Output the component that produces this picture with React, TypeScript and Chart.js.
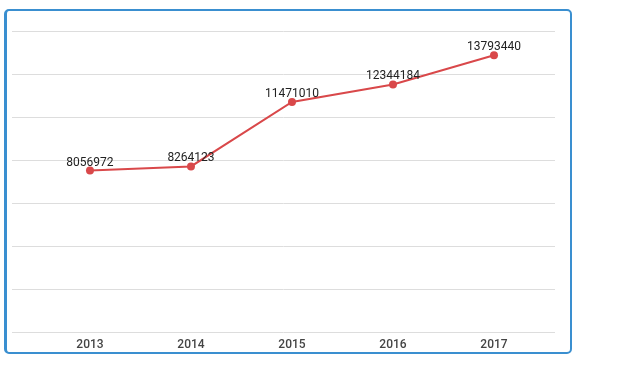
import React, { useEffect, useRef } from "react";
import { Chart, registerables } from "chart.js";

Chart.register(...registerables);

const years = ["2013", "2014", "2015", "2016", "2017"];
const values = [8056972, 8264123, 11471010, 12344184, 13793440];
const yMax = 15000000;
const yGridCount = 7;

const labelPlugin = {
  id: "pointLabels",
  afterDatasetsDraw(chart: any) {
    const ctx = chart.ctx;
    const meta = chart.getDatasetMeta(0);
    ctx.save();
    ctx.font = "12px Roboto";
    ctx.fillStyle = "#222";
    ctx.textAlign = "center";
    ctx.textBaseline = "alphabetic";
    meta.data.forEach((pt: any, i: number) => {
      ctx.fillText(String(values[i]), pt.x, pt.y - 5);
    });
    ctx.restore();
  },
};

export default function App() {
  const ref = useRef<HTMLCanvasElement>(null);
  useEffect(() => {
    const chart = new Chart(ref.current!, {
      type: "line",
      data: {
        datasets: [
          {
            data: values.map((v, i) => ({ x: i, y: v })),
            borderColor: "#d9484a",
            backgroundColor: "#d9484a",
            borderWidth: 2,
            pointRadius: 4,
            pointBackgroundColor: "#d9484a",
            pointBorderWidth: 0,
            tension: 0,
          },
        ],
      },
      options: {
        animation: false,
        responsive: false,
        maintainAspectRatio: false,
        layout: { padding: { left: 12, right: 65, top: 31, bottom: 19 } },
        plugins: { legend: { display: false }, tooltip: { enabled: false } },
        scales: {
          x: {
            type: "linear",
            min: -0.772,
            max: 4.604,
            grid: { display: false },
            border: { display: false },
            afterBuildTicks: (scale: any) => {
              scale.ticks = years.map((_, i) => ({ value: i }));
            },
            ticks: {
              padding: -3,
              color: "#444",
              font: { family: "Roboto", size: 12, weight: "500" },
              callback: (v: any) => years[v as number] ?? "",
              maxRotation: 0,
              autoSkip: false,
            },
          },
          y: {
            min: 0,
            max: yMax,
            afterBuildTicks: (scale: any) => {
              const t = [];
              for (let i = 0; i <= yGridCount; i++) t.push({ value: (yMax * i) / yGridCount });
              scale.ticks = t;
            },
            ticks: { display: false },
            border: { display: false },
            grid: { color: "#dddddd", drawTicks: false, lineWidth: 1 },
          },
        },
      },
      plugins: [labelPlugin],
    } as any);
    return () => chart.destroy();
  }, []);
  return (
    <div>
      <canvas
        ref={ref}
        width={620}
        height={368}
        style={{ position: "absolute", left: 0, top: 0, width: 620, height: 368 }}
      />
      <div
        style={{
          position: "absolute",
          left: 4,
          top: 9,
          width: 568,
          height: 345,
          boxSizing: "border-box",
          border: "2px solid #3a8fd0",
          borderLeft: "3px solid #3a8fd0",
          borderRadius: 5,
          pointerEvents: "none",
        }}
      />
    </div>
  );
}
